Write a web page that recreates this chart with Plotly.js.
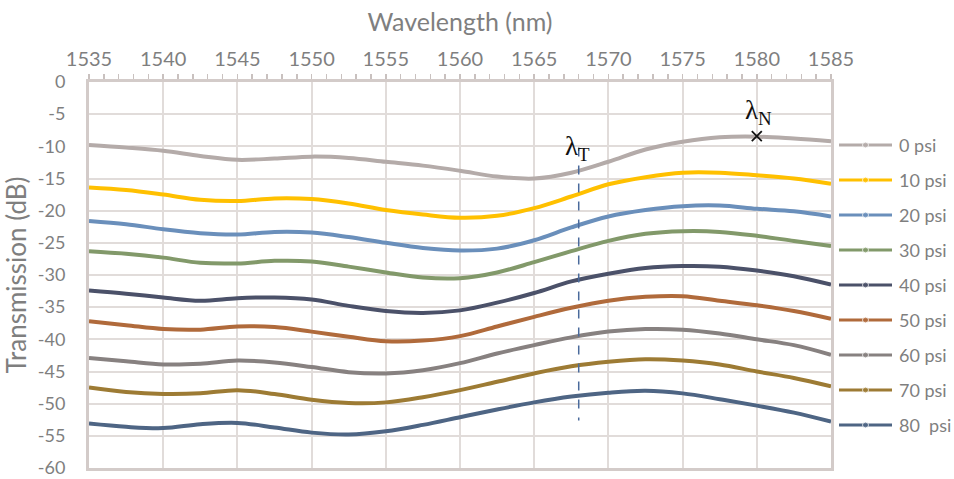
<!DOCTYPE html>
<html>
<head>
<meta charset="utf-8">
<script src="https://cdn.plot.ly/plotly-3.0.1.min.js"></script>
<style>
  html, body { margin: 0; padding: 0; background: #ffffff; }
  #chart { width: 954px; height: 479px; }
</style>
</head>
<body>
<div id="chart"></div>
<script>
// Wavelength sampling (nm)
const wavelength = [1535, 1537.5, 1540, 1542.5, 1545, 1547.5, 1550, 1552.5, 1555, 1557.5,
                    1560, 1562.5, 1565, 1567.5, 1570, 1572.5, 1575, 1577.5, 1580, 1582.5, 1585];

// Transmission spectra (dB) for each applied pressure
const psi0  = [-9.8, -10.2, -10.7, -11.5, -12.1, -11.9, -11.6, -11.8, -12.4, -13.0, -13.8, -14.7, -15.0, -14.1, -12.4, -10.5, -9.3, -8.6, -8.5, -8.8, -9.2];
const psi10 = [-16.4, -16.8, -17.5, -18.3, -18.5, -18.1, -18.2, -18.9, -19.9, -20.6, -21.1, -20.8, -19.6, -17.8, -15.9, -14.8, -14.1, -14.1, -14.5, -15.0, -15.8];
const psi20 = [-21.6, -22.1, -22.9, -23.5, -23.7, -23.3, -23.4, -24.1, -25.0, -25.8, -26.2, -25.9, -24.6, -22.6, -20.9, -19.9, -19.3, -19.2, -19.7, -20.1, -20.9];
const psi30 = [-26.3, -26.7, -27.3, -28.1, -28.2, -27.8, -27.9, -28.7, -29.6, -30.4, -30.5, -29.6, -28.0, -26.3, -24.7, -23.6, -23.2, -23.3, -23.9, -24.7, -25.5];
const psi40 = [-32.4, -32.9, -33.5, -34.0, -33.6, -33.5, -33.8, -34.8, -35.6, -35.9, -35.5, -34.3, -32.8, -31.0, -29.8, -28.9, -28.6, -28.7, -29.3, -30.2, -31.5];
const psi50 = [-37.2, -37.8, -38.4, -38.5, -38.0, -38.1, -38.8, -39.6, -40.3, -40.2, -39.5, -38.0, -36.5, -35.1, -34.0, -33.4, -33.3, -34.0, -34.7, -35.6, -36.8];
const psi60 = [-42.9, -43.4, -43.9, -43.8, -43.3, -43.6, -44.3, -45.1, -45.3, -44.8, -43.7, -42.2, -40.9, -39.7, -38.8, -38.4, -38.5, -39.1, -40.0, -40.9, -42.4];
const psi70 = [-47.5, -48.2, -48.5, -48.4, -47.9, -48.5, -49.4, -49.9, -49.8, -49.0, -47.9, -46.6, -45.3, -44.2, -43.5, -43.1, -43.3, -43.9, -45.0, -46.0, -47.3];
const psi80 = [-53.1, -53.6, -53.8, -53.2, -53.0, -53.7, -54.5, -54.8, -54.3, -53.3, -52.1, -50.9, -49.8, -48.9, -48.3, -48.0, -48.4, -49.3, -50.3, -51.4, -52.8];

const seriesNames = ['0 psi', '10 psi', '20 psi', '30 psi', '40 psi', '50 psi', '60 psi', '70 psi', '80  psi'];
const seriesData  = [psi0, psi10, psi20, psi30, psi40, psi50, psi60, psi70, psi80];
const seriesColors = ['#b4aba9', '#ffc000', '#6a8fbb', '#82996a', '#4b5169', '#b06a3b', '#878180', '#9d7b34', '#4e6584'];

// Marked wavelengths
const lambdaT = 1568;
const lambdaTSpan = [-10.2, -52.6];
const lambdaN = 1580;
const lambdaNLevel = -8.4;

// Axis tick labels
const xTicks = [1535, 1540, 1545, 1550, 1555, 1560, 1565, 1570, 1575, 1580, 1585];
const yTickVals = [0, -5, -10, -15, -20, -25, -30, -35, -40, -45, -50, -55, -60];
const yTickText = ['0', '-5', '-10', '-15', '-20', '-25', '-30', '-35', '-40', '-45', '-50', '-55', '-60'];

const labelFont = 'Lato, "Open Sans", sans-serif';
const gray = '#7f7f7f';

// Figure geometry (px)
const W = 954, H = 479;
const M = { l: 89, r: 0, t: 82, b: 11 };
const plotRight = 831;          // right edge of the plotting frame
const keyLeft = 839;            // where the key swatches start
const keyFirst = 145, keyStep = 35;   // key row centres
const innerW = W - M.l - M.r;

const traces = [];

// Spectra
seriesData.forEach((ys, i) => {
  traces.push({
    x: wavelength, y: ys, type: 'scatter', mode: 'lines',
    line: { color: seriesColors[i], width: 4, shape: 'spline', smoothing: 1 },
    showlegend: false, hoverinfo: 'skip'
  });
});

// Dashed guide at lambda_T
traces.push({
  x: [lambdaT, lambdaT], y: lambdaTSpan, type: 'scatter', mode: 'lines',
  line: { color: '#4a6a9c', width: 1.5, dash: 'dash' },
  showlegend: false, hoverinfo: 'skip'
});

// Cross at lambda_N
traces.push({
  x: [lambdaN], y: [lambdaNLevel], type: 'scatter', mode: 'markers',
  marker: { symbol: 'x-thin', size: 10, line: { color: '#111111', width: 1.8 } },
  showlegend: false, hoverinfo: 'skip'
});

// Key: swatch per series on its own small axis pair (x in px from keyLeft, y in row index)
const keyAnnotations = [];
seriesNames.forEach((name, i) => {
  traces.push({
    x: [0, 26.5, 53], y: [i, i, i], xaxis: 'x2', yaxis: 'y2',
    type: 'scatter', mode: 'lines+markers',
    line: { color: seriesColors[i], width: 3 },
    marker: { color: seriesColors[i], size: [0, 6, 0] },
    showlegend: false, hoverinfo: 'skip'
  });
  keyAnnotations.push({
    x: 58, y: i, xref: 'x2', yref: 'y2', text: name, showarrow: false,
    xanchor: 'left', yanchor: 'middle',
    font: { family: labelFont, size: 18, color: gray }
  });
});

const rowTop = (M.t - keyFirst) / keyStep;
const rowBottom = (H - M.b - keyFirst) / keyStep;

const layout = {
  width: W, height: H,
  margin: M,
  paper_bgcolor: '#ffffff', plot_bgcolor: '#ffffff',
  showlegend: false,
  xaxis: {
    domain: [0, (plotRight - M.l) / innerW],
    side: 'top', range: [1535, 1585],
    tickvals: xTicks,
    tickfont: { family: labelFont, size: 20, color: gray },
    ticks: 'outside', ticklen: 5, tickwidth: 1.5, tickcolor: '#c9c1bf',
    minor: { dtick: 1, ticks: 'outside', ticklen: 5, tickwidth: 1.5, tickcolor: '#c9c1bf', showgrid: false },
    ticklabelstandoff: 0,
    showgrid: true, gridcolor: '#e1dcda', gridwidth: 2,
    showline: true, linecolor: '#d3cbc9', linewidth: 3, mirror: true,
    zeroline: false,
    title: { text: 'Wavelength (nm)', font: { family: labelFont, size: 25, color: gray }, standoff: 8 }
  },
  yaxis: {
    range: [-60, 0],
    tickvals: yTickVals, ticktext: yTickText,
    tickfont: { family: labelFont, size: 18, color: gray },
    ticks: '', ticklabelstandoff: 17, ticklabeloverflow: 'allow',
    showgrid: true, gridcolor: '#e1dcda', gridwidth: 2,
    showline: true, linecolor: '#d3cbc9', linewidth: 3, mirror: true,
    zeroline: false,
    title: { text: 'Transmission (dB)', font: { family: labelFont, size: 26, color: gray }, standoff: 10 }
  },
  xaxis2: {
    domain: [(keyLeft - M.l) / innerW, 1], range: [0, W - keyLeft],
    visible: false, fixedrange: true
  },
  yaxis2: {
    domain: [0, 1], range: [rowBottom, rowTop], anchor: 'x2',
    visible: false, fixedrange: true
  },
  annotations: [
    {
      x: lambdaT, y: lambdaTSpan[0], xref: 'x', yref: 'y',
      text: 'λ<sub>T</sub>', showarrow: false,
      xanchor: 'center', yanchor: 'bottom', xshift: -1, yshift: -19,
      font: { family: '"Liberation Serif", serif', size: 27, color: '#111111' }
    },
    {
      x: lambdaN, y: lambdaNLevel, xref: 'x', yref: 'y',
      text: 'λ<sub>N</sub>', showarrow: false,
      xanchor: 'center', yanchor: 'bottom', xshift: 2, yshift: 5,
      font: { family: '"Liberation Serif", serif', size: 27, color: '#111111' }
    }
  ].concat(keyAnnotations)
};

Plotly.newPlot('chart', traces, layout, { staticPlot: true, displayModeBar: false });
</script>
</body>
</html>
